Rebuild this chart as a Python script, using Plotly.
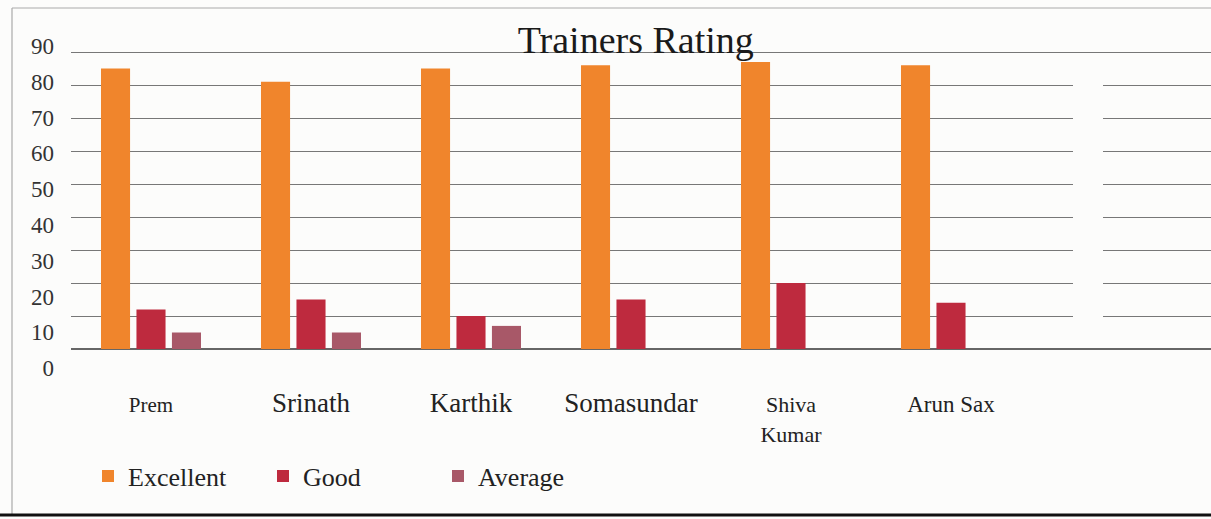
import plotly.graph_objects as go

# ---- data ----
trainers = ["Prem", "Srinath", "Karthik", "Somasundar", "Shiva Kumar", "Arun Sax"]
tick_labels = ["Prem", "Srinath", "Karthik", "Somasundar", "Shiva<br>Kumar", "Arun Sax"]
tick_sizes = [21, 27, 27, 27, 22, 23]
excellent = [85, 81, 85, 86, 87, 86]
good = [12, 15, 10, 15, 20, 14]
average = [5, 5, 7, 0, 0, 0]
y_ticks = [0, 10, 20, 30, 40, 50, 60, 70, 80, 90]

W, H = 1211, 519
L, R, T, B = 71, 0, 40, 147
PW, PH = W - L - R, H - T - B
SERIF = "Liberation Serif, Times New Roman, serif"
BG = "#fcfcfb"


def px(xpix):
    return (xpix - L) / PW


def py(ypix):
    return (T + PH - ypix) / PH


ticktext = [f'<span style="font-size:{s}px">{t}</span>' for t, s in zip(tick_labels, tick_sizes)]

fig = go.Figure()
fig.add_bar(x=trainers, y=excellent, name="Excellent", marker_color="#F0852C", marker_line_width=0)
fig.add_bar(x=trainers, y=good, name="Good", marker_color="#BE2A3E", marker_line_width=0)
fig.add_bar(x=trainers, y=average, name="Average", marker_color="#A85868", marker_line_width=0)
fig.add_scatter(x=[], y=[], yaxis="y2", showlegend=False, hoverinfo="skip")

# main y: gridline 0 at pixel 349, 90 at pixel 52
k = (349 - 52) / 90.0
y_lo = -(T + PH - 349) / k
y_hi = 90 + (52 - T) / k
# label axis: 0 label at pixel 368, 90 label at pixel 46
k2 = (368 - 46) / 90.0
y2_lo = -(T + PH - 368) / k2
y2_hi = 90 + (46 - T) / k2

fig.update_layout(
    width=W, height=H,
    margin=dict(l=L, r=R, t=T, b=B),
    paper_bgcolor=BG, plot_bgcolor=BG,
    barmode="group", bargap=0.335, bargroupgap=0.18,
    font=dict(family=SERIF, color="#222"),
    title=dict(text="Trainers Rating", x=0.525, xanchor="center", y=1 - 40 / H,
               yanchor="middle", yref="container", font=dict(size=38, family=SERIF, color="#1a1a1a")),
    xaxis=dict(range=[-0.5, 6.625], tickvals=trainers, ticktext=ticktext,
               showgrid=False, showline=False, zeroline=False, ticks="",
               tickfont=dict(size=23, family=SERIF, color="#222"), ticklabelstandoff=16),
    yaxis=dict(range=[y_lo, y_hi], tickvals=y_ticks, showticklabels=False,
               showgrid=True, gridcolor="#777", gridwidth=1,
               zeroline=True, zerolinecolor="#666", zerolinewidth=1.5, showline=False),
    yaxis2=dict(overlaying="y", side="left", anchor="x", range=[y2_lo, y2_hi],
                tickvals=y_ticks, showgrid=False, zeroline=False, showline=False, ticks="",
                tickfont=dict(size=23, family=SERIF, color="#333"), ticklabelstandoff=16),
    legend=dict(orientation="h", x=px(88), xanchor="left", y=py(476), yanchor="middle",
                font=dict(size=26, family=SERIF, color="#222"), bgcolor="rgba(0,0,0,0)",
                traceorder="normal", entrywidth=130),
    shapes=[
        # gap in gridlines (print artifact)
        dict(type="rect", xref="paper", yref="paper", x0=px(1073), x1=px(1103), y0=py(335), y1=py(70),
             fillcolor=BG, line_width=0, layer="above"),
        # page frame lines
        dict(type="line", xref="paper", yref="paper", x0=px(12), x1=px(12), y0=py(8), y1=py(514),
             line=dict(color="#999", width=1)),
        dict(type="line", xref="paper", yref="paper", x0=px(12), x1=px(1211), y0=py(8), y1=py(8),
             line=dict(color="#aaa", width=1)),
        dict(type="line", xref="paper", yref="paper", x0=px(0), x1=px(1211), y0=py(515), y1=py(515),
             line=dict(color="#111", width=3)),
    ],
)

fig.write_html("out.html", config={"displayModeBar": False},
               post_script="document.body.style.margin='0';document.body.style.background='" + BG + "';")
